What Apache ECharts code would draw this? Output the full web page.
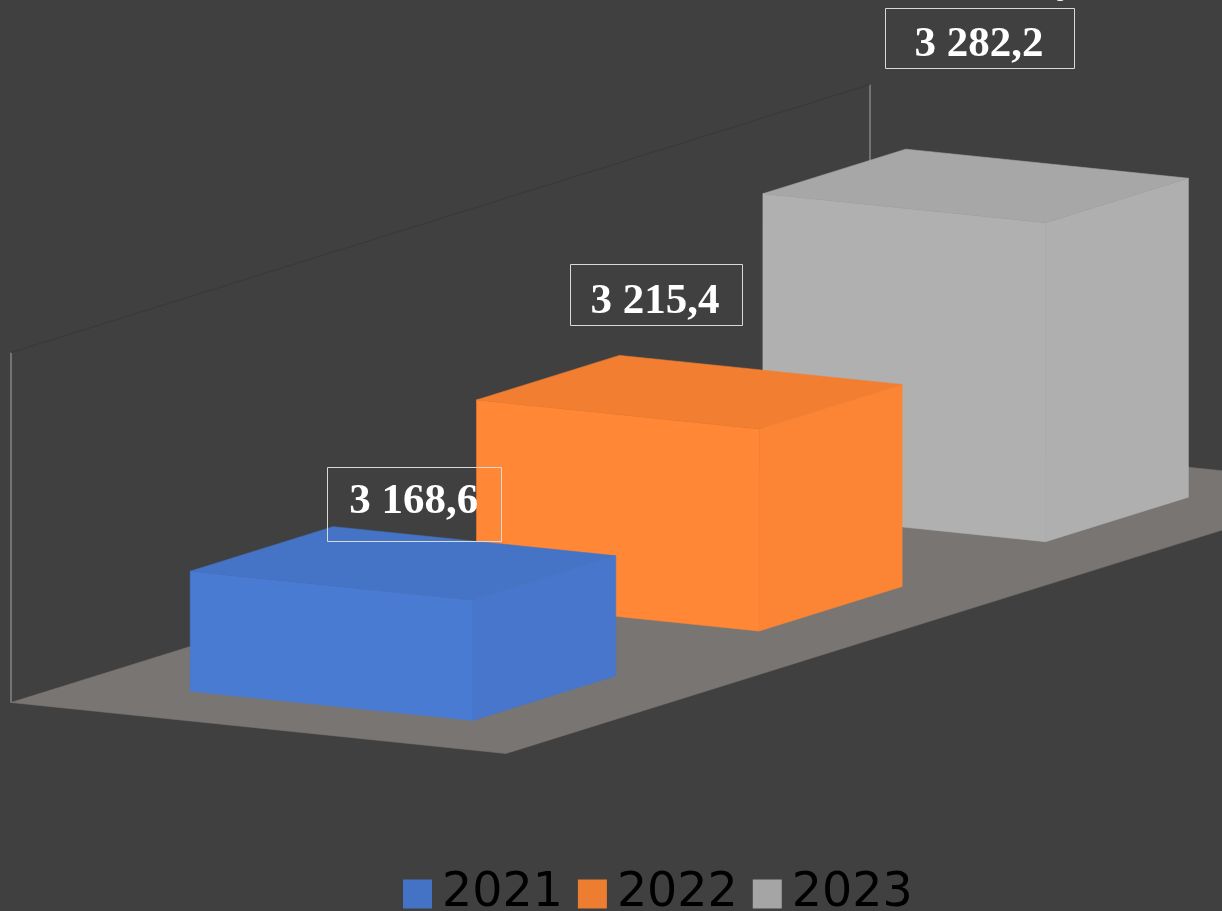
<!DOCTYPE html>
<html><head><meta charset="utf-8">
<style>html,body{margin:0;padding:0;background:#404040}#c{width:1222px;height:911px}</style>
<script src="https://cdn.jsdelivr.net/npm/echarts@6/dist/echarts.min.js"></script>
</head><body><div id="c"></div>
<script>
const categories = ['2021', '2022', '2023'];
const values = [3168.6, 3215.4, 3282.2];
const labels = ['3 168,6', '3 215,4', '3 282,2'];
const axisMin = 3100, axisMax = 3300;

// oblique projection of the chart's box
const SKEW = -0.312, DEPTH_X = 495, DEPTH_Y = 51;
const BAR_U = [0.25, 0.749], BAR_V = [0.2175, 0.7885];
const faces = [
  {front:'#4a7bd3', side:'#4776cc', top:'#4573c5', legend:'#4472c4'},
  {front:'#ff8735', side:'#fb8534', top:'#f27f31', legend:'#ed7d31'},
  {front:'#b0b0b0', side:'#afafaf', top:'#a7a7a7', legend:'#a5a5a5'}
];
// label box relative to the bar's top front-left corner: centre x, centre y, w, h, text dy
const labelBoxes = [[224,-67.5,174,74,-2],[179,-105,172,61,7],[216.5,-155.5,189,60,7]];

function projector(api){
  const band = api.size([1,0])[0];
  const x0 = api.coord([0,axisMin])[0] - band/2;
  return (u,val,v) => {
    const y = api.coord([0,val])[1];
    return [x0 + u*band + v*DEPTH_X, y + u*band*SKEW + v*DEPTH_Y];
  };
}
const poly = (points, fill) => ({type:'polygon', shape:{points}, style:{fill, stroke:fill, lineWidth:0.6}});

function renderStage(params, api){
  const p = projector(api), n = categories.length;
  return {type:'group', children:[
    poly([p(0,axisMin,0),p(n,axisMin,0),p(n,axisMin,1),p(0,axisMin,1)], '#787572'),
    {type:'line', shape:{x1:p(0,axisMin,0)[0],y1:p(0,axisMin,0)[1],x2:p(0,axisMax,0)[0],y2:p(0,axisMax,0)[1]}, style:{stroke:'#a6a6a6',lineWidth:1}},
    {type:'line', shape:{x1:p(n,axisMin,0)[0],y1:p(n,axisMin,0)[1],x2:p(n,axisMax,0)[0],y2:p(n,axisMax,0)[1]}, style:{stroke:'#a6a6a6',lineWidth:1}},
    {type:'line', shape:{x1:p(0,axisMax,0)[0],y1:p(0,axisMax,0)[1],x2:p(n,axisMax,0)[0],y2:p(n,axisMax,0)[1]}, style:{stroke:'#383838',lineWidth:1}}
  ]};
}
function renderBar(params, api){
  const p = projector(api), i = api.value(0), val = api.value(1), f = faces[i];
  const u0 = i+BAR_U[0], u1 = i+BAR_U[1], v0 = BAR_V[0], v1 = BAR_V[1];
  const corner = p(u0,val,v0), b = labelBoxes[i];
  const cx = corner[0]+b[0], cy = corner[1]+b[1];
  return {type:'group', children:[
    poly([p(u0,axisMin,v0),p(u0,val,v0),p(u0,val,v1),p(u0,axisMin,v1)], f.front),
    poly([p(u0,axisMin,v1),p(u0,val,v1),p(u1,val,v1),p(u1,axisMin,v1)], f.side),
    poly([p(u0,val,v0),p(u1,val,v0),p(u1,val,v1),p(u0,val,v1)], f.top),
    {type:'rect', shape:{x:Math.round(cx-b[2]/2)+0.5,y:Math.round(cy-b[3]/2)+0.5,width:b[2],height:b[3]}, style:{fill:'none',stroke:'#d9d9d9',lineWidth:1}},
    {type:'text', style:{text:labels[i],x:cx-0.5,y:cy+b[4],align:'center',verticalAlign:'middle',fill:'#ffffff',font:'bold 43px "Liberation Serif"'}}
  ]};
}

const chart = echarts.init(document.getElementById('c'), null, {renderer:'canvas'});
chart.setOption({
  animation:false,
  backgroundColor:'#404040',
  grid:{left:11, top:352.5, width:859, height:350, containLabel:false},
  xAxis:{type:'category', data:categories, show:false},
  yAxis:{type:'value', min:axisMin, max:axisMax, show:false},
  legend:{
    data:categories, left:403, top:870, padding:0, itemWidth:29, itemHeight:29, itemGap:15,
    selectedMode:false, icon:'rect',
    textStyle:{color:'#000000', fontSize:47.5, fontFamily:'DejaVu Sans', padding:[0,0,0,5]}
  },
  // tail of a clipped glyph that pokes in at the top edge of the reference
  graphic:[{type:'text', left:1056, top:-41, silent:true, style:{text:'у', fill:'#ffffff', font:'bold 43px "Liberation Serif"'}}],
  series:[
    {name:'stage', type:'custom', z:1, silent:true, clip:false, renderItem:renderStage, data:[[0,axisMin]]},
    ...categories.map((c,i)=>({
      name:c, type:'custom', z:6-i, silent:true, clip:false, renderItem:renderBar,
      itemStyle:{color:faces[i].legend},
      encode:{x:0,y:1},
      data:[[i,values[i]]]
    }))
  ]
});
</script></body></html>
